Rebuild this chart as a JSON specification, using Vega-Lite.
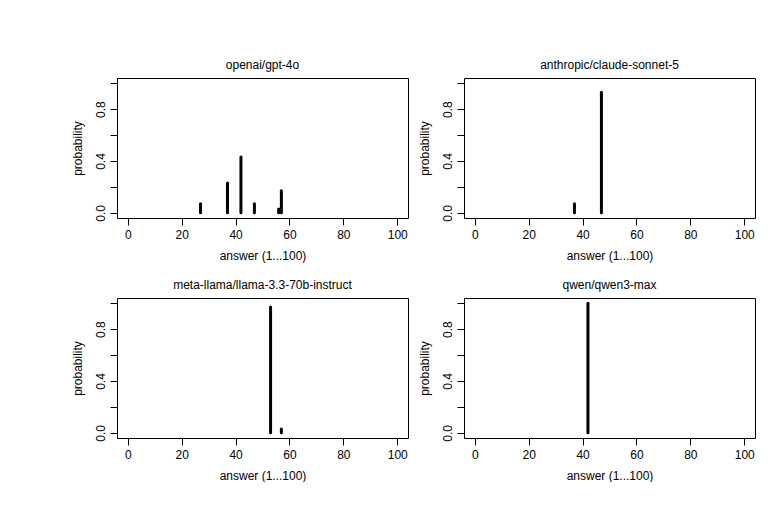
{
  "$schema": "https://vega.github.io/schema/vega-lite/v6.json",
  "padding": {"left": 70, "top": 58, "right": 0, "bottom": 0},
  "background": "white",
  "datasets": {
    "probs": [
      {"model": "openai/gpt-4o", "answer": 27, "p": 0.07},
      {"model": "openai/gpt-4o", "answer": 37, "p": 0.23},
      {"model": "openai/gpt-4o", "answer": 42, "p": 0.43},
      {"model": "openai/gpt-4o", "answer": 47, "p": 0.07},
      {"model": "openai/gpt-4o", "answer": 56, "p": 0.03},
      {"model": "openai/gpt-4o", "answer": 57, "p": 0.17},
      {"model": "anthropic/claude-sonnet-5", "answer": 37, "p": 0.07},
      {"model": "anthropic/claude-sonnet-5", "answer": 47, "p": 0.93},
      {"model": "meta-llama/llama-3.3-70b-instruct", "answer": 53, "p": 0.97},
      {"model": "meta-llama/llama-3.3-70b-instruct", "answer": 57, "p": 0.03},
      {"model": "qwen/qwen3-max", "answer": 42, "p": 1.0}
    ]
  },
  "vconcat": [
    {
      "spacing": 8,
      "hconcat": [
        {
          "width": 291, "height": 140,
          "title": {"text": "openai/gpt-4o"},
          "data": {"name": "probs"},
          "transform": [{"filter": "datum.model == 'openai/gpt-4o'"}],
          "mark": {"type": "rule", "color": "black", "strokeWidth": 3, "strokeCap": "round"},
          "encoding": {
            "x": {"field": "answer", "type": "quantitative", "title": "answer (1...100)", "scale": {"domain": [-4, 104], "nice": false, "zero": false}, "axis": {"values": [0, 20, 40, 60, 80, 100]}},
            "y": {"field": "p", "type": "quantitative", "title": "probability", "scale": {"domain": [-0.04, 1.04], "nice": false, "zero": false}, "axis": {"values": [0, 0.2, 0.4, 0.6, 0.8, 1.0]}},
            "y2": {"datum": 0}
          }
        },
        {
          "width": 291, "height": 140,
          "title": {"text": "anthropic/claude-sonnet-5"},
          "data": {"name": "probs"},
          "transform": [{"filter": "datum.model == 'anthropic/claude-sonnet-5'"}],
          "mark": {"type": "rule", "color": "black", "strokeWidth": 3, "strokeCap": "round"},
          "encoding": {
            "x": {"field": "answer", "type": "quantitative", "title": "answer (1...100)", "scale": {"domain": [-4, 104], "nice": false, "zero": false}, "axis": {"values": [0, 20, 40, 60, 80, 100]}},
            "y": {"field": "p", "type": "quantitative", "title": "probability", "scale": {"domain": [-0.04, 1.04], "nice": false, "zero": false}, "axis": {"values": [0, 0.2, 0.4, 0.6, 0.8, 1.0]}},
            "y2": {"datum": 0}
          }
        }
      ]
    },
    {
      "spacing": 8,
      "hconcat": [
        {
          "width": 291, "height": 140,
          "title": {"text": "meta-llama/llama-3.3-70b-instruct"},
          "data": {"name": "probs"},
          "transform": [{"filter": "datum.model == 'meta-llama/llama-3.3-70b-instruct'"}],
          "mark": {"type": "rule", "color": "black", "strokeWidth": 3, "strokeCap": "round"},
          "encoding": {
            "x": {"field": "answer", "type": "quantitative", "title": "answer (1...100)", "scale": {"domain": [-4, 104], "nice": false, "zero": false}, "axis": {"values": [0, 20, 40, 60, 80, 100]}},
            "y": {"field": "p", "type": "quantitative", "title": "probability", "scale": {"domain": [-0.04, 1.04], "nice": false, "zero": false}, "axis": {"values": [0, 0.2, 0.4, 0.6, 0.8, 1.0]}},
            "y2": {"datum": 0}
          }
        },
        {
          "width": 291, "height": 140,
          "title": {"text": "qwen/qwen3-max"},
          "data": {"name": "probs"},
          "transform": [{"filter": "datum.model == 'qwen/qwen3-max'"}],
          "mark": {"type": "rule", "color": "black", "strokeWidth": 3, "strokeCap": "round"},
          "encoding": {
            "x": {"field": "answer", "type": "quantitative", "title": "answer (1...100)", "scale": {"domain": [-4, 104], "nice": false, "zero": false}, "axis": {"values": [0, 20, 40, 60, 80, 100]}},
            "y": {"field": "p", "type": "quantitative", "title": "probability", "scale": {"domain": [-0.04, 1.04], "nice": false, "zero": false}, "axis": {"values": [0, 0.2, 0.4, 0.6, 0.8, 1.0]}},
            "y2": {"datum": 0}
          }
        }
      ]
    }
  ],
  "spacing": 16,
  "config": {
    "font": "Liberation Sans",
    "view": {"stroke": "black", "strokeWidth": 1},
    "title": {"fontSize": 12, "fontWeight": "normal", "color": "black", "frame": "group", "anchor": "middle", "offset": 6},
    "axis": {
      "domain": false,
      "grid": false,
      "ticks": true,
      "tickColor": "black",
      "tickSize": 7,
      "tickWidth": 1,
      "labelColor": "black",
      "labelFontSize": 12,
      "labelFlush": false,
      "labelOverlap": false,
      "titleColor": "black",
      "titleFontSize": 12,
      "titleFontWeight": "normal"
    },
    "axisX": {"labelPadding": 4, "titlePadding": 10},
    "axisY": {
      "labelAngle": 270,
      "labelAlign": "center",
      "labelBaseline": "bottom",
      "labelPadding": 3,
      "titlePadding": 10,
      "labelExpr": "(abs(datum.value) < 0.001 || abs(datum.value - 0.4) < 0.001 || abs(datum.value - 0.8) < 0.001) ? format(datum.value, '.1f') : ''"
    }
  }
}
